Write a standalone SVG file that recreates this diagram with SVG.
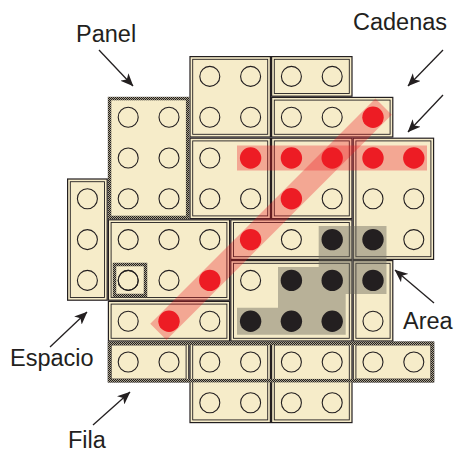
<svg xmlns="http://www.w3.org/2000/svg" width="456" height="454" viewBox="0 0 456 454">
<style>
.o{fill:#f6ecc9;stroke:#231f20;stroke-width:1.2}
.i{fill:none;stroke:#231f20;stroke-width:0.9}
.h{fill:none;stroke:url(#hatch);stroke-width:3.5}
.hp{fill:#f6ecc9;stroke:url(#hatch);stroke-width:3.5}
.c{fill:none;stroke:#231f20;stroke-width:1.1}
.r{fill:#ed1c24}
.k{fill:#231f20}
.band{fill:none;stroke:#ed1c24;stroke-opacity:0.33;stroke-width:23}
.bar{fill:#ed1c24;fill-opacity:0.33}
.area{fill:#6d6a5e;fill-opacity:0.45}
.lbl{font-family:"Liberation Sans",Arial,sans-serif;font-size:23.5px;fill:#231f20}
.ar{stroke:#231f20;stroke-width:1.3;fill:none;marker-end:url(#ah)}
</style>
<defs>
<pattern id="hatch" width="2" height="2" patternUnits="userSpaceOnUse">
<rect width="2" height="2" fill="#a8a18a"/>
<rect width="1" height="1" fill="#231f20"/>
<rect x="1" y="1" width="1" height="1" fill="#231f20"/>
</pattern>
<marker id="ah" viewBox="0 0 13 11" refX="12.5" refY="5.5" markerWidth="13" markerHeight="11" markerUnits="userSpaceOnUse" orient="auto">
<path d="M0,0 L13,5.5 L0,11 L3.5,5.5 z" fill="#231f20"/>
</marker>
</defs>
<rect width="456" height="454" fill="#fff"/>

<g id="brick-a">
<rect class="o" x="190" y="56.6" width="80.4" height="80.4"/><rect class="i" x="192.7" y="59.3" width="75" height="75"/>
<circle class="c" cx="209.8" cy="76.4" r="10"/><circle class="c" cx="250.6" cy="76.4" r="10"/>
<circle class="c" cx="209.8" cy="117.2" r="10"/><circle class="c" cx="250.6" cy="117.2" r="10"/>
</g>
<g id="brick-b">
<rect class="o" x="271.6" y="56.6" width="80.4" height="39.6"/><rect class="i" x="274.3" y="59.3" width="75" height="34.2"/>
<circle class="c" cx="291.4" cy="76.4" r="10"/><circle class="c" cx="332.2" cy="76.4" r="10"/>
</g>
<g id="brick-c">
<rect class="o" x="271.6" y="97.4" width="121.2" height="39.6"/><rect class="i" x="274.3" y="100.1" width="115.8" height="34.2"/>
<circle class="c" cx="291.4" cy="117.2" r="10"/><circle class="c" cx="332.2" cy="117.2" r="10"/>
</g>
<g id="panel">
<rect class="hp" x="109.55" y="98.55" width="78.1" height="118.9"/>
<circle class="c" cx="128.2" cy="117.2" r="10"/><circle class="c" cx="169" cy="117.2" r="10"/>
<circle class="c" cx="128.2" cy="158" r="10"/><circle class="c" cx="169" cy="158" r="10"/>
<circle class="c" cx="128.2" cy="198.8" r="10"/><circle class="c" cx="169" cy="198.8" r="10"/>
</g>
<g id="brick-d">
<rect class="o" x="190" y="138.2" width="80.4" height="80.4"/><rect class="i" x="192.7" y="140.9" width="75" height="75"/>
<circle class="c" cx="209.8" cy="158" r="10"/>
<circle class="c" cx="209.8" cy="198.8" r="10"/><circle class="c" cx="250.6" cy="198.8" r="10"/>
</g>
<g id="brick-e">
<rect class="o" x="271.6" y="138.2" width="80.4" height="80.4"/><rect class="i" x="274.3" y="140.9" width="75" height="75"/>
<circle class="c" cx="332.2" cy="198.8" r="10"/>
</g>
<g id="brick-f">
<rect class="o" x="353.2" y="138.2" width="80.4" height="121.2"/><rect class="i" x="355.9" y="140.9" width="75" height="115.8"/>
<circle class="c" cx="373" cy="198.8" r="10"/><circle class="c" cx="413.8" cy="198.8" r="10"/>
<circle class="c" cx="413.8" cy="239.6" r="10"/>
</g>
<g id="brick-g">
<rect class="o" x="67.6" y="179" width="39.6" height="121.2"/><rect class="i" x="70.3" y="181.7" width="34.2" height="115.8"/>
<circle class="c" cx="87.4" cy="198.8" r="10"/><circle class="c" cx="87.4" cy="239.6" r="10"/><circle class="c" cx="87.4" cy="280.4" r="10"/>
</g>
<g id="brick-h">
<rect class="o" x="108.4" y="219.8" width="121.2" height="80.4"/><rect class="i" x="111.1" y="222.5" width="115.8" height="75"/>
<circle class="c" cx="128.2" cy="239.6" r="10"/><circle class="c" cx="169" cy="239.6" r="10"/><circle class="c" cx="209.8" cy="239.6" r="10"/>
<circle class="c" cx="128.2" cy="280.4" r="10"/><circle class="c" cx="169" cy="280.4" r="10"/>
</g>
<g id="brick-i">
<rect class="o" x="230.8" y="219.8" width="121.2" height="39.6"/><rect class="i" x="233.5" y="222.5" width="115.8" height="34.2"/>
<circle class="c" cx="291.4" cy="239.6" r="10"/>
</g>
<g id="brick-j">
<rect class="o" x="230.8" y="260.6" width="121.2" height="80.4"/><rect class="i" x="233.5" y="263.3" width="115.8" height="75"/>
<circle class="c" cx="250.6" cy="280.4" r="10"/>
</g>
<g id="brick-k">
<rect class="o" x="353.2" y="260.6" width="39.6" height="80.4"/><rect class="i" x="355.9" y="263.3" width="34.2" height="75"/>
<circle class="c" cx="373" cy="321.2" r="10"/>
</g>
<g id="brick-l">
<rect class="o" x="108.4" y="301.4" width="121.2" height="39.6"/><rect class="i" x="111.1" y="304.1" width="115.8" height="34.2"/>
<circle class="c" cx="128.2" cy="321.2" r="10"/><circle class="c" cx="209.8" cy="321.2" r="10"/>
</g>
<g id="brick-m">
<rect class="o" x="108.4" y="342.2" width="80.4" height="39.6"/><rect class="i" x="111.1" y="344.9" width="75" height="34.2"/>
<circle class="c" cx="128.2" cy="362" r="10"/><circle class="c" cx="169" cy="362" r="10"/>
</g>
<g id="brick-n">
<rect class="o" x="190" y="342.2" width="80.4" height="80.4"/><rect class="i" x="192.7" y="344.9" width="75" height="75"/>
<circle class="c" cx="209.8" cy="362" r="10"/><circle class="c" cx="250.6" cy="362" r="10"/>
<circle class="c" cx="209.8" cy="402.8" r="10"/><circle class="c" cx="250.6" cy="402.8" r="10"/>
</g>
<g id="brick-o">
<rect class="o" x="271.6" y="342.2" width="80.4" height="80.4"/><rect class="i" x="274.3" y="344.9" width="75" height="75"/>
<circle class="c" cx="291.4" cy="362" r="10"/><circle class="c" cx="332.2" cy="362" r="10"/>
<circle class="c" cx="291.4" cy="402.8" r="10"/><circle class="c" cx="332.2" cy="402.8" r="10"/>
</g>
<g id="brick-p">
<rect class="o" x="353.2" y="342.2" width="80.4" height="39.6"/><rect class="i" x="355.9" y="344.9" width="75" height="34.2"/>
<circle class="c" cx="373" cy="362" r="10"/><circle class="c" cx="413.8" cy="362" r="10"/>
</g>

<g id="espacio-mark">
<rect class="h" x="114.5" y="264.5" width="31" height="31"/>
<circle class="c" cx="128.2" cy="280.4" r="10"/>
</g>
<g id="fila-mark">
<rect class="h" x="109.55" y="343.35" width="322.9" height="37.3"/>
</g>

<g id="highlights">
<line class="band" x1="158.4" y1="331.8" x2="383.6" y2="106.6"/>
<rect class="bar" x="237" y="145.5" width="190" height="25"/>
<polygon class="area" points="318.7,226 386.5,226 386.5,294 345.7,294 345.7,334.7 237,334.7 237,307.7 278,307.7 278,267 318.7,267"/>
</g>

<g id="dots">
<circle class="r" cx="373" cy="117.2" r="10.7"/>
<circle class="r" cx="250.6" cy="158" r="10.7"/><circle class="r" cx="291.4" cy="158" r="10.7"/><circle class="r" cx="332.2" cy="158" r="10.7"/><circle class="r" cx="373" cy="158" r="10.7"/><circle class="r" cx="413.8" cy="158" r="10.7"/>
<circle class="r" cx="291.4" cy="198.8" r="10.7"/>
<circle class="r" cx="250.6" cy="239.6" r="10.7"/>
<circle class="r" cx="209.8" cy="280.4" r="10.7"/>
<circle class="r" cx="169" cy="321.2" r="10.7"/>
<circle class="k" cx="332.2" cy="239.6" r="10.7"/><circle class="k" cx="373" cy="239.6" r="10.7"/>
<circle class="k" cx="291.4" cy="280.4" r="10.7"/><circle class="k" cx="332.2" cy="280.4" r="10.7"/><circle class="k" cx="373" cy="280.4" r="10.7"/>
<circle class="k" cx="250.6" cy="321.2" r="10.7"/><circle class="k" cx="291.4" cy="321.2" r="10.7"/><circle class="k" cx="332.2" cy="321.2" r="10.7"/>
</g>

<g id="connectors">
<line class="ar" x1="99" y1="50" x2="133" y2="86"/>
<line class="ar" x1="443" y1="50" x2="408" y2="86"/>
<line class="ar" x1="443" y1="95" x2="408" y2="132"/>
<line class="ar" x1="434" y1="303" x2="395" y2="270"/>
<line class="ar" x1="50" y1="347" x2="87" y2="312"/>
<line class="ar" x1="93" y1="425" x2="130" y2="392"/>
</g>

<g id="label-panel"><text class="lbl" x="76" y="42">Panel</text></g>
<g id="label-cadenas"><text class="lbl" x="353" y="30">Cadenas</text></g>
<g id="label-area"><text class="lbl" x="403" y="329">Area</text></g>
<g id="label-espacio"><text class="lbl" x="10" y="366">Espacio</text></g>
<g id="label-fila"><text class="lbl" x="68" y="448">Fila</text></g>
</svg>
